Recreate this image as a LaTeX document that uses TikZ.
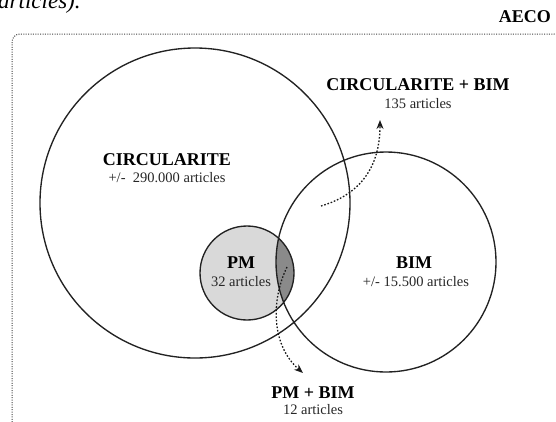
\documentclass[tikz,border=0pt]{standalone}
\usepackage{fontspec}
\setmainfont{Liberation Serif}
\usetikzlibrary{arrows,arrows.meta}

\definecolor{setgray}{HTML}{222222}
\definecolor{pmlight}{HTML}{D9D9D9}
\definecolor{pmdark}{HTML}{8A8A8A}

\tikzset{
    setline/.style={draw=setgray,line width=1.35pt},
    settitle/.style={font=\fontsize{18}{20}\selectfont\bfseries,text=black,inner sep=0pt},
    setcount/.style={font=\fontsize{14.5}{16}\selectfont,text=black!85,inner sep=0pt},
    linkarrow/.style={-{Stealth[length=9pt,width=7pt]},dash pattern=on 1.6pt off 1.8pt,line width=1.3pt,black!90},
    frameline/.style={dash pattern=on 1pt off 1.4pt,line width=1pt,black!75,rounded corners=8pt}
}

\begin{document}
\begin{tikzpicture}[x=1pt,y=-1pt]
        \useasboundingbox (0,0) rectangle (556,421);
        % cut caption line
        \node[anchor=base west,inner sep=0pt,font=\fontsize{23}{25}\selectfont\itshape] (caption) at (-2,8) {articles).};
        % frame of the field
        \draw[frameline] (12,427) -- (12,34) -- (562,34) -- (562,427);
        \node[settitle,anchor=east] (aeco) at (551,17) {AECO};

        % the three sets
        \coordinate (circ) at (195,203);
        \coordinate (bim) at (386,262);
        \coordinate (pm) at (247,273);
        \fill[pmlight] (pm) circle (47pt);
        \begin{scope}
            \clip (bim) circle (110pt);
            \fill[pmdark] (pm) circle (47pt);
        \end{scope}
        \draw[setline] (circ) circle (155pt) (bim) circle (110pt) (pm) circle (47pt);

        % labels
        \node[settitle] (circtitle) at (167,160) {CIRCULARITE};
        \node[setcount] (circcount) at (167,178) {+/-\ \ 290.000 articles};
        \node[settitle] (pmtitle) at (241,263) {PM};
        \node[setcount] (pmcount) at (241,282) {32 articles};
        \node[settitle] (bimtitle) at (414,263) {BIM};
        \node[setcount] (bimcount) at (416,282) {+/- 15.500 articles};
        \node[settitle] (cbtitle) at (418,85) {CIRCULARITE + BIM};
        \node[setcount] (cbcount) at (418,104) {135 articles};
        \node[settitle] (pbtitle) at (313,393) {PM + BIM};
        \node[setcount] (pbcount) at (313,410) {12 articles};

        % links to the intersections
        \coordinate (cbstart) at (321,206);
        \coordinate (cbend) at (380,120);
        \coordinate (pbstart) at (287,267);
        \coordinate (pbend) at (303,373);
        \draw[linkarrow] (cbstart) .. controls (352,197) and (380,175) .. (cbend);
        \draw[linkarrow] (pbstart) .. controls (271,300) and (271,345) .. (pbend);
    \end{tikzpicture}
\end{document}
